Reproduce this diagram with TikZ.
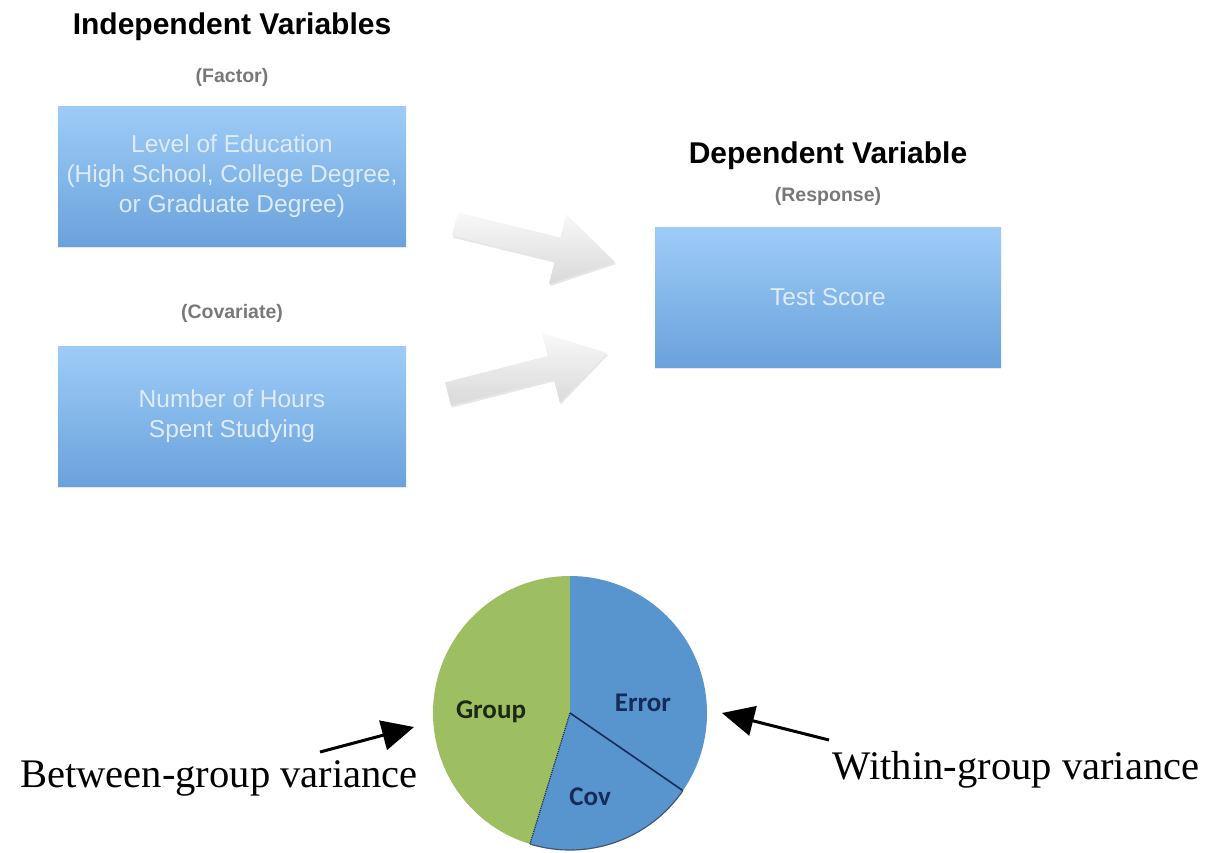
\documentclass[tikz,border=0pt]{standalone}
\usepackage{fontspec}
\setmainfont{Liberation Sans}
\newfontfamily\carl{Carlito}
\newfontfamily\tnr{Liberation Serif}
\usetikzlibrary{arrows.meta,shadows}
\definecolor{boxtop}{RGB}{158,204,247}
\definecolor{boxbot}{RGB}{106,162,220}
\definecolor{boxtext}{RGB}{222,236,250}
\definecolor{subgray}{RGB}{120,120,120}
\definecolor{piegreen}{RGB}{158,190,98}
\definecolor{pieblue}{RGB}{88,148,206}
\definecolor{navy}{RGB}{22,44,88}
\definecolor{darkgreen}{RGB}{28,40,16}
\tikzset{
  varbox/.style={rectangle, minimum width=348pt, minimum height=140pt, inner sep=0pt,
    top color=boxtop, bottom color=boxbot, draw=none, text=boxtext, align=center,
    font=\fontsize{24.5}{30}\selectfont,
    drop shadow={opacity=0.18, shadow xshift=0pt, shadow yshift=-2pt}},
  title/.style={font=\bfseries\fontsize{30}{34}\selectfont, text=black},
  subtitle/.style={font=\bfseries\fontsize{19.5}{22}\selectfont, text=subgray},
  blockarrow/.style={draw=none, top color=gray!5, bottom color=gray!30,
    drop shadow={opacity=0.2, shadow xshift=1pt, shadow yshift=-2pt}},
  pielabel/.style={font=\carl\bfseries\fontsize{27}{30}\selectfont},
  varlabel/.style={font=\tnr\fontsize{40.6}{44}\selectfont, text=black},
  pointer/.style={line width=3pt, -{Triangle[length=32pt,width=30pt]}}
}
\begin{document}
\begin{tikzpicture}[x=1pt,y=-1pt]
\useasboundingbox (0,0) rectangle (1215,852);
% titles
\node[title] (ivt) at (232,27) {Independent Variables};
\node[subtitle] (fac) at (232,77) {(Factor)};
\node[subtitle] (cov) at (232,313) {(Covariate)};
\node[title] (dvt) at (828,156) {Dependent Variable};
\node[subtitle] (resp) at (828,196) {(Response)};
% boxes
\node[varbox] (edu) at (232,176) {Level of Education\\(High School, College Degree,\\or Graduate Degree)};
\node[varbox] (hrs) at (232,416) {Number of Hours\\Spent Studying};
\node[varbox, minimum width=346pt] (ts) at (828,297) {Test Score};
% block arrows
\path[blockarrow] (457.9,212.3) -- (560.5,237.5) -- (566.2,214.2) -- (615,262)
  -- (549.0,284.2) -- (554.7,260.9) -- (452.1,235.7) -- cycle;
\path[blockarrow] (445,382.4) -- (547.8,355.9) -- (541.8,332.7) -- (607,353)
  -- (559.8,402.3) -- (553.8,379.1) -- (451,405.6) -- cycle;
% pie
\coordinate (pc) at (570,713);
\fill[piegreen] (pc) -- ++(90:137pt) arc[start angle=90, end angle=253, radius=137pt] -- cycle;
\fill[pieblue] (pc) -- ++(253:137pt) arc[start angle=253, end angle=325.5, radius=137pt] -- cycle;
\fill[pieblue] (pc) -- ++(-34.5:137pt) arc[start angle=-34.5, end angle=90, radius=137pt] -- cycle;
\draw[navy, line width=1.6pt] (pc) -- ++(-34.5:137pt);
\draw[navy, line width=1.2pt, densely dotted] (pc) -- ++(253:137pt);
\draw[navy!80, line width=1.2pt] ([shift={(253:137pt)}]pc) arc[start angle=253, end angle=325.5, radius=137pt];
\node[pielabel, text=darkgreen] (grp) at (491,712) {Group};
\node[pielabel, text=navy] (err) at (643,703) {Error};
\node[pielabel, text=navy] (cv) at (590,797) {Cov};
% variance labels
\node[varlabel] (btw) at (219,778) {Between-group variance};
\node[varlabel] (wth) at (1016,770) {Within-group variance};
\coordinate (btail) at (320,752);
\coordinate (btip) at (414,727);
\coordinate (wtail) at (829,740);
\coordinate (wtip) at (722,713);
\draw[pointer] (btail) -- (btip);
\draw[pointer] (wtail) -- (wtip);
\end{tikzpicture}
\end{document}
